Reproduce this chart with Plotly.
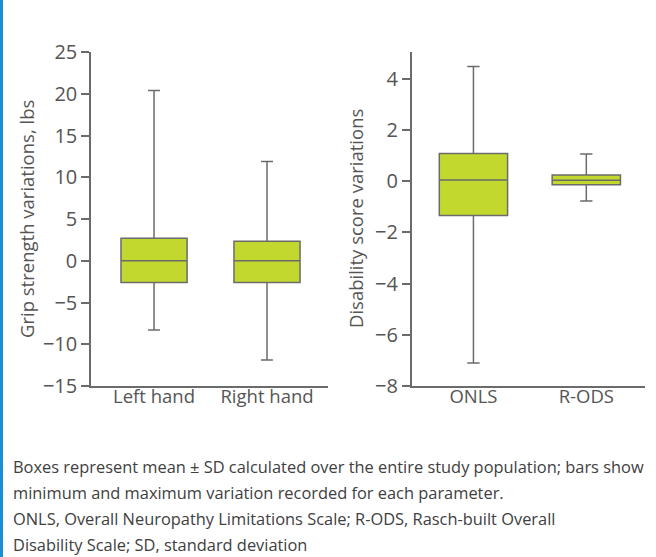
import plotly.graph_objects as go

# ---- data ----
grip_categories = ["Left hand", "Right hand"]
grip_min = [-8.3, -11.9]
grip_q1 = [-2.6, -2.6]
grip_mean = [0.0, 0.0]
grip_q3 = [2.7, 2.35]
grip_max = [20.4, 11.9]

dis_categories = ["ONLS", "R-ODS"]
dis_min = [-7.1, -0.77]
dis_q1 = [-1.34, -0.14]
dis_mean = [0.05, 0.04]
dis_q3 = [1.08, 0.24]
dis_max = [4.48, 1.06]

grip_ticks = [-15, -10, -5, 0, 5, 10, 15, 20, 25]
dis_ticks = [-8, -6, -4, -2, 0, 2, 4]

caption_lines = [
    "Boxes represent mean \u00b1 SD calculated over the entire study population; bars show",
    "minimum and maximum variation recorded for each parameter.",
    "ONLS, Overall Neuropathy Limitations Scale; R-ODS, Rasch-built Overall",
    "Disability Scale; SD, standard deviation",
]

# ---- style ----
W, H = 656, 557
FONT = "Open Sans"
FILL = "#c3d82f"
LINE = "#6b6b6b"
TXT = "#555555"

def minus(v):
    return str(v).replace("-", "\u2212")

fig = go.Figure()
fig.add_trace(go.Box(
    x=grip_categories, q1=grip_q1, median=grip_mean, q3=grip_q3,
    lowerfence=grip_min, upperfence=grip_max,
    fillcolor=FILL, line=dict(color=LINE, width=1.5),
    width=0.585, whiskerwidth=0.18, boxpoints=False,
    xaxis="x", yaxis="y", showlegend=False, hoverinfo="skip"))
fig.add_trace(go.Box(
    x=dis_categories, q1=dis_q1, median=dis_mean, q3=dis_q3,
    lowerfence=dis_min, upperfence=dis_max,
    fillcolor=FILL, line=dict(color=LINE, width=1.5),
    width=0.605, whiskerwidth=0.18, boxpoints=False,
    xaxis="x2", yaxis="y2", showlegend=False, hoverinfo="skip"))

def px(x):
    return x / W

def py(y):
    return 1 - y / H

base = dict(showgrid=False, zeroline=False, showline=True,
            linecolor=LINE, linewidth=1.5, automargin=False)
xstyle = dict(ticks="", tickfont=dict(family=FONT, size=18.5, color=TXT),
              ticklabelstandoff=-7, **base)
ystyle = dict(ticks="outside", ticklen=8, tickcolor=LINE, tickwidth=1.5,
              tickfont=dict(family=FONT, size=20, color=TXT), **base)

fig.update_layout(
    width=W, height=H,
    margin=dict(l=0, r=0, t=0, b=0, pad=0, autoexpand=False),
    paper_bgcolor="white", plot_bgcolor="white",
    font=dict(family=FONT, size=20, color=TXT),
    xaxis=dict(domain=[px(91), px(328)], range=[-0.558, 1.54], anchor="y", **xstyle),
    yaxis=dict(domain=[py(386), py(52)], range=[-15, 25], anchor="x",
               tickmode="array",
               tickvals=grip_ticks, ticktext=[minus(t) for t in grip_ticks], **ystyle),
    xaxis2=dict(domain=[px(411.7), px(645)], range=[-0.547, 1.52], anchor="y2", **xstyle),
    yaxis2=dict(domain=[py(386), py(52)], range=[-8, 5.05], anchor="x2",
                tickmode="array",
                tickvals=dis_ticks, ticktext=[minus(t) for t in dis_ticks], **ystyle),
)
fig.update_yaxes(tickfont_size=20)

annotations = [
    dict(text="Grip strength variations, lbs", xref="paper", yref="paper",
         x=px(27), y=py(219), textangle=-90, showarrow=False,
         font=dict(family=FONT, size=18.5, color=TXT), xanchor="center", yanchor="middle"),
    dict(text="Disability score variations", xref="paper", yref="paper",
         x=px(356), y=py(219), textangle=-90, showarrow=False,
         font=dict(family=FONT, size=18.5, color=TXT), xanchor="center", yanchor="middle"),
]
for i, line in enumerate(caption_lines):
    annotations.append(dict(text=line, xref="paper", yref="paper",
                            x=px(10.5), y=py(466 + 26 * i), showarrow=False,
                            xanchor="left", yanchor="middle", align="left",
                            font=dict(family=FONT, size=16.4, color="#404040")))
fig.update_layout(annotations=annotations)

fig.add_shape(type="line", xref="paper", yref="paper",
              x0=px(1.5), x1=px(1.5), y0=0, y1=1,
              line=dict(color="#1a8fd8", width=3))

fig.write_html("out.html",
               config={"displayModeBar": False},
               post_script="document.body.style.margin='0';document.body.style.overflow='hidden';")
